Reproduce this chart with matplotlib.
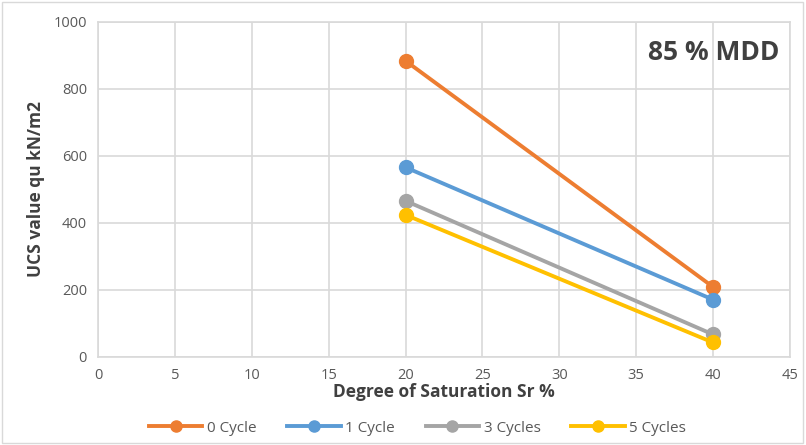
import matplotlib
matplotlib.use("Agg")

import matplotlib.pyplot as plt
from matplotlib.patches import Rectangle


saturation = [20, 40]

cycle_0 = [884, 209]
cycle_1 = [566, 171]
cycle_3 = [466, 67]
cycle_5 = [424, 43]

series_names = ["0 Cycle", "1 Cycle", "3 Cycles", "5 Cycles"]
series_colors = ["#ED7D31", "#5B9BD5", "#A5A5A5", "#FFC000"]

x_ticks = list(range(0, 50, 5))
y_ticks = list(range(0, 1200, 200))


plt.rcParams["font.family"] = ["Open Sans", "DejaVu Sans"]

fig = plt.figure(figsize=(8.06, 4.45), dpi=100)
ax = fig.add_axes([0.1216, 0.198, 0.8584, 0.7526])

for values, name, color in zip([cycle_0, cycle_1, cycle_3, cycle_5], series_names, series_colors):
    ax.plot(
        saturation,
        values,
        color=color,
        linewidth=2.8,
        marker="o",
        markersize=10,
        label=name,
        zorder=3
    )

ax.set_xlim(0, 45)
ax.set_ylim(0, 1000)
ax.set_xticks(x_ticks)
ax.set_yticks(y_ticks)

ax.grid(True, color="#D9D9D9", linewidth=1.2)
ax.set_axisbelow(True)
for spine in ax.spines.values():
    spine.set_color("#D9D9D9")
    spine.set_linewidth(1.2)

ax.tick_params(length=0, labelsize=10.5, labelcolor="#595959", pad=8)

ax.set_xlabel("Degree of Saturation Sr %", fontsize=12.5, fontweight="bold", color="#404040", labelpad=0)
ax.set_ylabel("UCS value qu kN/m2", fontsize=12.5, fontweight="bold", color="#404040", labelpad=6)

ax.text(0.985, 0.91, "85 % MDD", transform=ax.transAxes, ha="right", va="center",
        fontsize=19, fontweight="bold", color="#404040")

legend = fig.legend(
    loc="lower center",
    bbox_to_anchor=(0.518, -0.01),
    ncol=4,
    frameon=False,
    fontsize=11,
    labelcolor="#595959",
    handlelength=3.5,
    columnspacing=2.0,
    handletextpad=0.3
)
for handle in legend.legend_handles:
    handle.set_markersize(8)

fig.add_artist(Rectangle((0.002, 0.004), 0.994, 0.992, transform=fig.transFigure,
                         fill=False, edgecolor="#D9D9D9", linewidth=1))

plt.savefig("out.png", dpi=100)
plt.close()
